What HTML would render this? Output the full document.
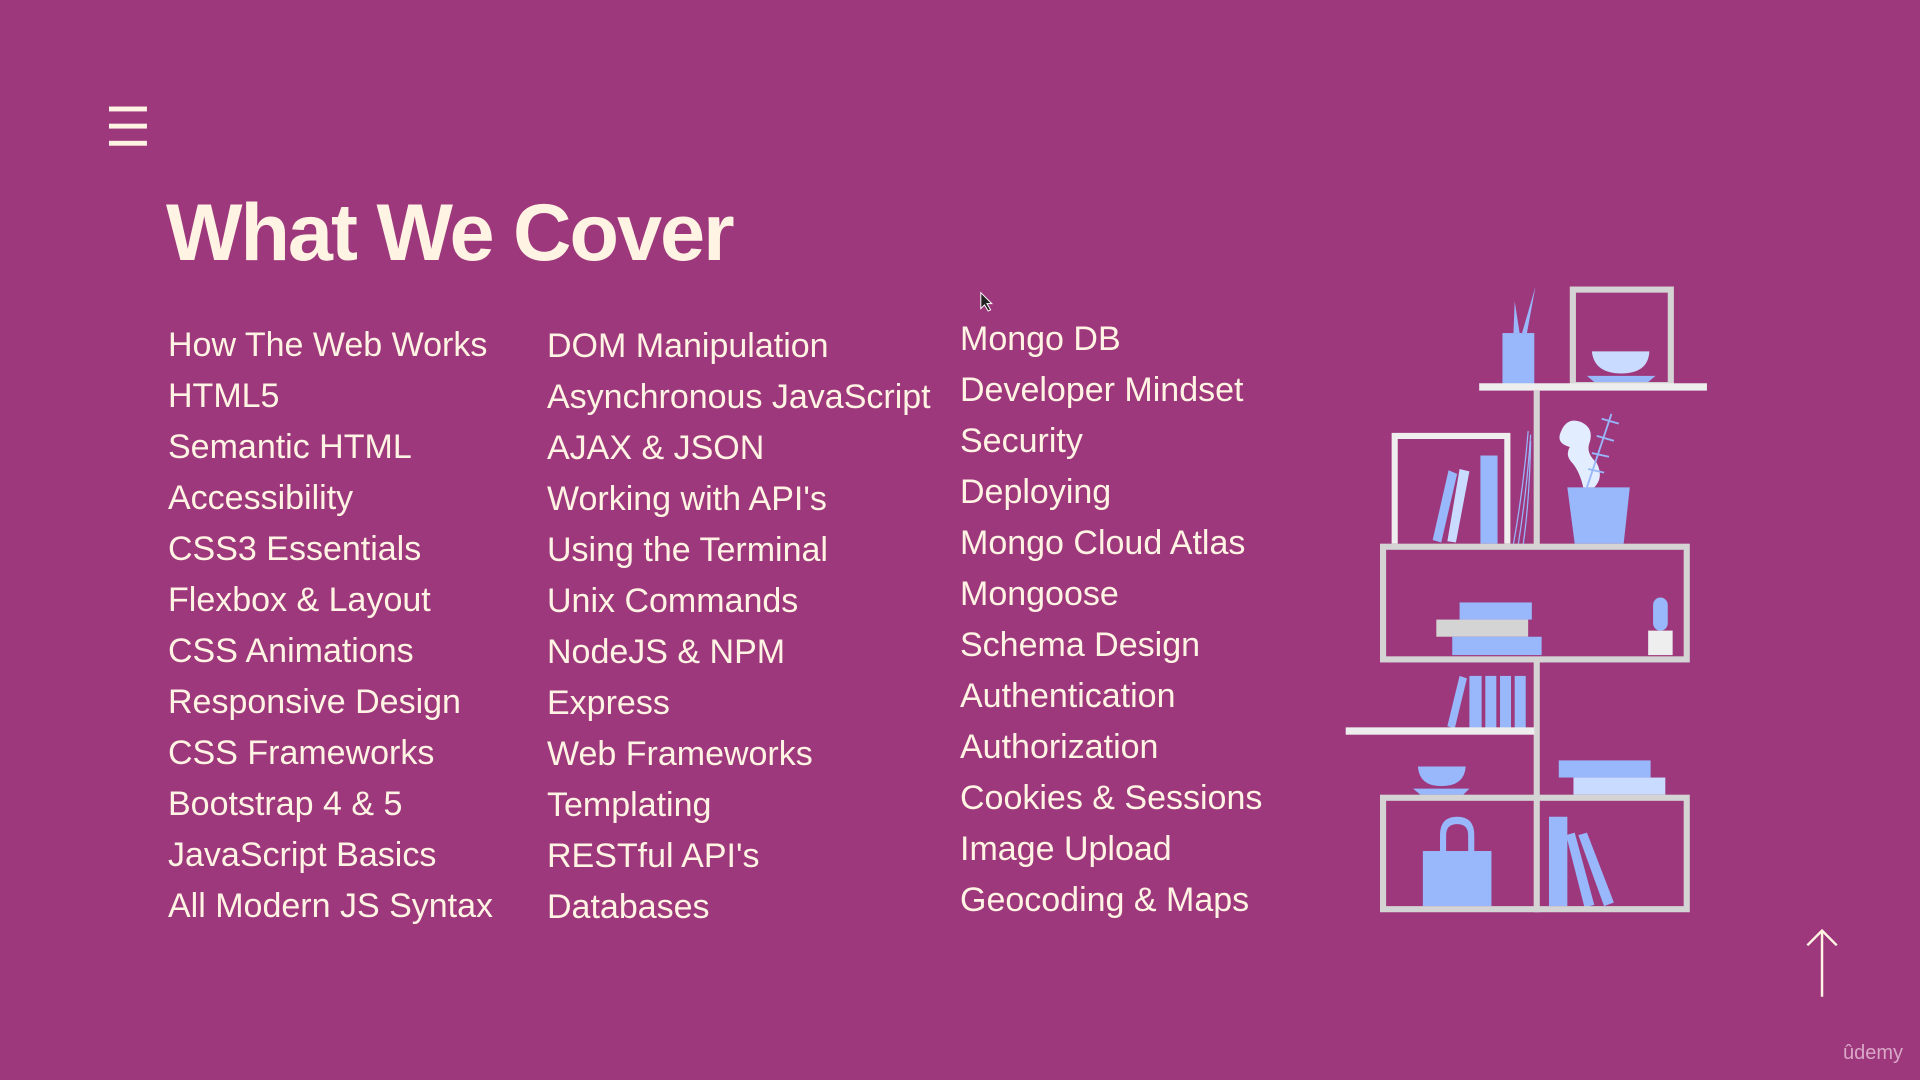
<!DOCTYPE html>
<html><head><meta charset="utf-8"><style>
html,body{margin:0;padding:0;}
body{width:1920px;height:1080px;background:#9e387c;position:relative;overflow:hidden;font-family:"Liberation Sans",sans-serif;color:#fff4e3;}
.t{position:absolute;left:166px;top:187px;font-size:81px;font-weight:bold;letter-spacing:-2px;white-space:nowrap;}
.col{position:absolute;font-size:34px;line-height:51px;white-space:nowrap;}
.col div{height:51px;}
svg{position:absolute;left:0;top:0;}
.ud{position:absolute;left:1843px;top:1042px;font-size:20px;color:#d9a8c8;}
</style></head><body>
<svg width="1920" height="1080" viewBox="0 0 1568 882">
<rect x="89" y="87" width="31" height="4" fill="#fff4e3"/>
<rect x="89" y="101" width="31" height="4" fill="#fff4e3"/>
<rect x="89" y="115" width="31" height="4" fill="#fff4e3"/>
<g stroke="#fff4e3" stroke-width="2" fill="none"><line x1="1488" y1="760" x2="1488" y2="814"/><polyline points="1476,772 1488,760 1500,772"/></g>
<path d="M801,239 L801,252 L804,249 L807,254 L809,253 L806,248 L810,248 Z" fill="#222" stroke="#fff" stroke-width="0.8"/>
<g fill="#98b8fb">
<rect x="1227" y="272" width="26" height="42"/>
<path d="M1236,272 L1237,246 L1241,272Z M1243,272 L1254,234 L1247,272Z"/>
<path d="M1300,287 L1347,287 Q1346,305 1324,305 Q1302,305 1300,287Z" fill="#c9dcff"/>
<path d="M1296,307 L1352,307 L1346,312 L1302,312Z"/>
<path d="M1183,384 L1190,387 L1177,443 L1170,441Z"/>
<path d="M1192,383 L1200,385 L1189,443 L1182,442Z" fill="#c9dcff"/>
<rect x="1209" y="372" width="14" height="72"/>
<path d="M1280,398 L1331,398 L1326,444 L1286,444Z"/>
<path d="M1275,352 Q1280,340 1292,345 Q1302,350 1298,362 Q1295,370 1304,378 Q1310,390 1302,398 L1293,398 Q1290,385 1284,378 Q1278,372 1282,365 Q1270,362 1275,352Z" fill="#e2edff"/>
<g stroke="#98b8fb" stroke-width="1.5"><line x1="1296" y1="398" x2="1316" y2="338"/><line x1="1308" y1="342" x2="1322" y2="346"/><line x1="1304" y1="356" x2="1318" y2="360"/><line x1="1300" y1="370" x2="1314" y2="373"/><line x1="1297" y1="383" x2="1310" y2="386"/></g>
<g stroke="#98b8fb" stroke-width="1" fill="none"><path d="M1236,444 Q1244,400 1248,352"/><path d="M1240,444 Q1247,400 1250,355"/><path d="M1244,444 Q1249,410 1250,360"/></g>
<rect x="1192" y="492" width="59" height="14"/>
<rect x="1173" y="506" width="75" height="14" fill="#d4d4d4"/>
<rect x="1186" y="520" width="73" height="15"/>
<rect x="1346" y="515" width="20" height="20" fill="#eeeeee"/>
<rect x="1350" y="488" width="12" height="27" rx="6"/>
<path d="M1192,552 L1198,554 L1188,595 L1182,593Z"/>
<rect x="1200" y="552" width="10" height="43"/>
<rect x="1213" y="552" width="9" height="43"/>
<rect x="1225" y="552" width="9" height="43"/>
<rect x="1237" y="552" width="9" height="43"/>
<path d="M1158,626 L1197,626 Q1196,642 1177,642 Q1159,642 1158,626Z"/>
<path d="M1154,644 L1200,644 L1195,649 L1160,649Z"/>
<rect x="1273" y="621" width="75" height="14"/>
<rect x="1285" y="635" width="75" height="14" fill="#c9dcff"/>
<rect x="1162" y="695" width="56" height="45"/>
<path d="M1176,695 L1176,682 Q1176,667 1190,667 Q1204,667 1204,682 L1204,695 L1199,695 L1199,682 Q1199,673 1190,673 Q1181,673 1181,682 L1181,695Z"/>
<rect x="1265" y="667" width="15" height="73"/>
<path d="M1279,682 L1286,680 L1302,739 L1294,741Z"/>
<path d="M1289,682 L1296,680 L1318,737 L1310,740Z"/>
</g>
<g fill="none" stroke="#d4d4d4" stroke-width="5">
<rect x="1284.5" y="236.5" width="80" height="78"/>
<rect x="1129.5" y="446.5" width="248" height="92"/>
<rect x="1129.5" y="651.5" width="248" height="91"/>
<line x1="1255" y1="319" x2="1255" y2="446"/>
<line x1="1255" y1="540" x2="1255" y2="745"/>
</g>
<g fill="none" stroke="#eeeeee" stroke-width="5">
<path d="M1139,444 L1139,356 L1231,356 L1231,444"/>
</g>
<rect x="1208" y="313" width="186" height="6" fill="#eeeeee"/>
<rect x="1099" y="594" width="154" height="6" fill="#eeeeee"/>
</svg>
<div class="t">What We Cover</div>
<div class="col" style="left:168px;top:320px">
<div>How The Web Works</div><div>HTML5</div><div>Semantic HTML</div><div>Accessibility</div><div>CSS3 Essentials</div><div>Flexbox &amp; Layout</div><div>CSS Animations</div><div>Responsive Design</div><div>CSS Frameworks</div><div>Bootstrap 4 &amp; 5</div><div>JavaScript Basics</div><div>All Modern JS Syntax</div>
</div>
<div class="col" style="left:547px;top:321px">
<div>DOM Manipulation</div><div>Asynchronous JavaScript</div><div>AJAX &amp; JSON</div><div>Working with API's</div><div>Using the Terminal</div><div>Unix Commands</div><div>NodeJS &amp; NPM</div><div>Express</div><div>Web Frameworks</div><div>Templating</div><div>RESTful API's</div><div>Databases</div>
</div>
<div class="col" style="left:960px;top:314px">
<div>Mongo DB</div><div>Developer Mindset</div><div>Security</div><div>Deploying</div><div>Mongo Cloud Atlas</div><div>Mongoose</div><div>Schema Design</div><div>Authentication</div><div>Authorization</div><div>Cookies &amp; Sessions</div><div>Image Upload</div><div>Geocoding &amp; Maps</div>
</div>
<div class="ud">ûdemy</div>
</body></html>
